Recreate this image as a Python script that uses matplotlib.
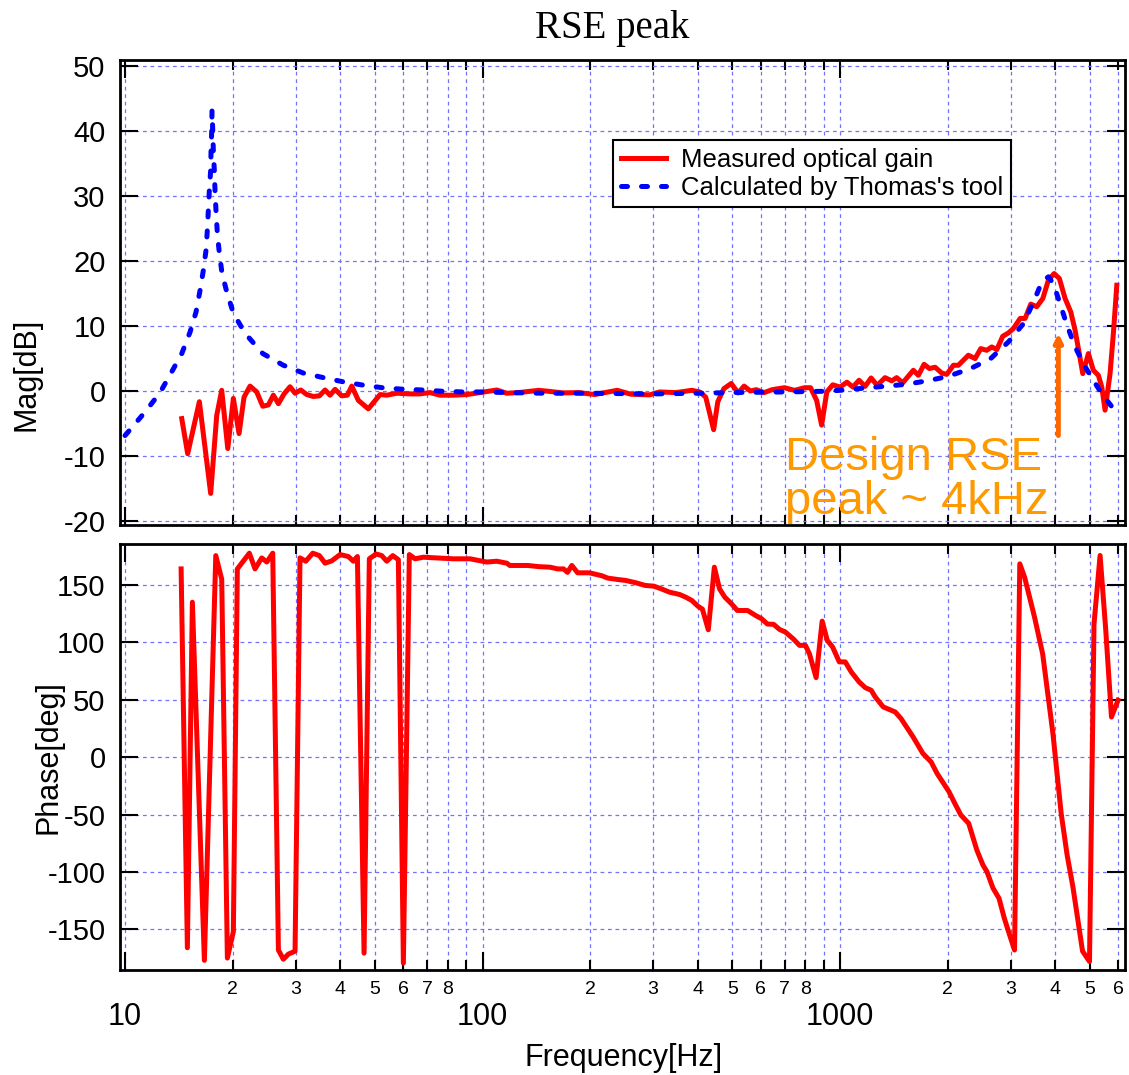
import numpy as np
import matplotlib.pyplot as plt
from matplotlib.ticker import FixedLocator, FuncFormatter

plt.rcParams['font.family'] = ['Liberation Sans', 'DejaVu Sans']
plt.rcParams['axes.unicode_minus'] = False

# measured optical gain, magnitude [dB]
mag_freq = [14.41, 14.97, 16.14, 17.36, 18.05, 18.64, 19.38, 20.09, 20.84, 21.52,
            22.37, 23.35, 24.28, 25.17, 25.99, 26.85, 27.85, 28.94, 29.89, 31.01,
            32.23, 33.63, 34.96, 36.27, 37.45, 38.68, 40.38, 41.86, 43.07, 44.94,
            47.92, 51.68, 53.96, 57.54, 62.69, 66.87, 71.32, 76.05, 82.85, 90.33,
            98.4, 109.6, 116.9, 126, 143.5, 153, 167.6, 186, 206, 220,
            238, 260, 293, 313, 347, 385, 405, 421, 443, 455,
            473, 496, 519, 539, 561, 583, 613, 646, 699, 746,
            796, 827, 860, 888, 918, 954, 1000, 1045, 1087, 1130,
            1175, 1221, 1270, 1336, 1395, 1440, 1497, 1603, 1656, 1718,
            1778, 1844, 1925, 1988, 2075, 2142, 2285, 2386, 2475, 2572,
            2657, 2744, 2851, 2957, 3053, 3189, 3293, 3416, 3550, 3690,
            3826, 3969, 4106, 4260, 4419, 4543, 4641, 4774, 4950, 5110,
            5278, 5395, 5511, 5691, 5814, 5943]
mag_db = [-4.2, -9.6, -1.6, -15.7, -3.7, 0.15, -8.8, -1.1, -6.5, -0.9,
          0.8, -0.1, -2.3, -2.1, -0.6, -1.9, -0.4, 0.7, -0.3, 0.2,
          -0.5, -0.8, -0.7, 0.2, -0.6, 0.3, -0.7, -0.6, 0.8, -1.4,
          -2.7, -0.5, -0.6, -0.3, -0.4, -0.4, -0.2, -0.6, -0.6, -0.5,
          -0.2, 0.2, -0.3, -0.2, 0.15, 0.0, -0.25, -0.2, -0.5, -0.2,
          0.15, -0.45, -0.55, -0.1, -0.2, 0.15, -0.1, -0.9, -5.9, -1.6,
          0.4, 1.2, -0.25, 0.8, 0.05, 0.25, -0.2, 0.25, 0.55, 0.15,
          0.55, 0.55, -1.4, -5.2, -0.1, 1.0, 0.65, 1.4, 0.65, 1.7,
          0.75, 2.05, 0.9, 2.1, 1.6, 2.1, 1.3, 3.23, 2.46, 4.15,
          3.5, 3.7, 2.8, 2.6, 4.0, 4.0, 5.54, 5.03, 6.56, 6.3,
          6.82, 6.4, 8.46, 8.97, 9.64, 11.2, 11.2, 13.4, 13.0, 14.26,
          17.08, 18.1, 17.33, 14.26, 12.2, 9.38, 6.56, 2.72, 5.8, 3.23,
          2.46, 0.67, -2.9, 2.72, 8.9, 16.3]

# calculated by Thomas's tool
calc_freq = [10.0, 11.37, 12.53, 13.51, 14.41, 15.20, 15.80, 16.21, 16.56, 16.85,
             16.99, 17.10, 17.21, 17.36, 17.40, 17.48, 17.51, 17.59, 17.66, 17.77,
             17.85, 17.97, 18.12, 18.36, 18.68, 19.25, 20.09, 21.67, 24.28, 27.72,
             31.53, 35.87, 41.24, 46.92, 53.38, 60.72, 68.19, 77.55, 88.22, 100.3,
             117.1, 150, 200, 300, 400, 500, 700, 900, 1000, 1200,
             1336, 1536, 1784, 2006, 2318, 2638, 2957, 3257, 3488, 3666,
             3826, 3950, 4122, 4299, 4523, 4788, 5110, 5395, 5765]
calc_db = [-6.8, -3.2, -0.2, 3.0, 5.8, 9.1, 12.2, 15.5, 18.6, 21.7,
           24.8, 27.8, 30.9, 34.0, 37.0, 40.2, 43.1, 40.2, 37.0, 34.0,
           30.9, 27.6, 24.3, 21.2, 18.1, 15.3, 12.0, 8.9, 5.8, 4.0,
           2.8, 2.1, 1.4, 0.9, 0.5, 0.3, 0.2, 0.0, -0.1, -0.1,
           -0.2, -0.3, -0.3, -0.4, -0.3, -0.2, -0.1, 0.0, 0.15, 0.55,
           0.77, 1.08, 1.69, 2.3, 3.5, 5.03, 7.59, 10.4, 13.9, 16.8,
           17.6, 16.56, 13.49, 10.4, 7.08, 4.26, 1.69, -0.36, -2.41]

# measured optical gain, phase [deg]
phase_freq = [14.35, 14.94, 15.43, 16.67, 17.94, 18.64, 19.33, 20.09, 20.61, 22.27,
              23.10, 24.12, 24.92, 25.89, 26.85, 27.72, 28.63, 29.89, 30.86, 32.03,
              33.50, 34.96, 36.27, 37.86, 39.94, 42.13, 43.52, 44.66, 46.62, 48.23,
              50.36, 52.24, 53.96, 56.09, 58.15, 60.05, 62.40, 64.74, 68.30, 74.45,
              82.85, 92.26, 102.7, 109.6, 116.9, 119.2, 133.9, 143.4, 154.4, 162.3,
              168.5, 172.8, 177.7, 184.5, 199.2, 215.9, 223.9, 238.5, 251, 268,
              285, 301, 316, 333, 356, 370, 385, 400, 412, 428,
              445, 460, 476, 497, 516, 551, 580, 603, 626, 652,
              677, 703, 740, 770, 800, 821, 857, 891, 921, 953,
              995, 1034, 1075, 1131, 1176, 1222, 1254, 1320, 1426, 1481,
              1600, 1705, 1797, 1868, 2016, 2094, 2177, 2290, 2413, 2510,
              2575, 2677, 2784, 2878, 2967, 3076, 3182, 3282, 3499, 3687,
              3939, 4154, 4315, 4480, 4767, 4985, 5132, 5337, 5529, 5743,
              5991]
phase_deg = [164, -166, 135, -177, 175.6, 155, -175, -152, 164, 177.7,
             164, 173.6, 170, 177.7, -168, -176, -171.6, -169, 173.6, 170.7,
             177.7, 175.6, 169, 171, 176.5, 174.8, 170.7, 174.8, -170.7, 172.8,
             177, 175.6, 170.7, 175.6, 172, -179.4, 176.5, 172.8, 174.2, 173.6,
             172.8, 172.8, 170, 170.7, 169, 167, 167, 166, 165.5, 164,
             164, 161, 167, 160.6, 160.6, 158, 156, 154.8, 154, 152,
             149.6, 149, 146.7, 143.8, 141.7, 139.4, 136.5, 131.6, 129, 111,
             165.5, 146.7, 139.4, 133.6, 127.8, 127.8, 123.5, 120.6, 116, 115.7,
             111.3, 109, 103, 97.4, 97.4, 90, 69.3, 118.5, 101.7, 96,
             83, 83, 74.2, 65.5, 60.6, 58.3, 52.5, 43.8, 39.4, 33.6,
             17.7, 3.2, -4.1, -14.2, -30, -40.3, -50.4, -57.7, -80.9, -94,
             -99.7, -114, -123, -140, -153, -168, 168.4, 156.8, 122, 90,
             20.6, -49, -85, -113, -169, -178, 116, 175.7, 113, 35,
             49.6]

mag_ticks = [-20, -10, 0, 10, 20, 30, 40, 50]
phase_ticks = [-150, -100, -50, 0, 50, 100, 150]
major_freqs = [10, 100, 1000]

grid_kw = dict(color='#7272ff', linestyle=(0, (3, 3)), linewidth=0.9)


def minor_label(v, pos):
    m = int(round(v / 10 ** np.floor(np.log10(v))))
    return str(m) if m <= 8 else ''


def style(ax):
    ax.set_xscale('log')
    ax.set_xlim(9.65, 6266)
    minors = [m * 10 ** e for e in (1, 2, 3) for m in range(2, 10) if m * 10 ** e < 6266]
    ax.xaxis.set_major_locator(FixedLocator(major_freqs))
    ax.xaxis.set_minor_locator(FixedLocator(minors))
    ax.xaxis.set_major_formatter(FuncFormatter(lambda v, p: '%d' % v))
    ax.xaxis.set_minor_formatter(FuncFormatter(minor_label))
    ax.tick_params(which='both', direction='in', top=True, right=True, width=1.5)
    ax.tick_params(which='major', length=13)
    ax.tick_params(which='minor', length=7)
    ax.tick_params(axis='y', labelsize=21, pad=10)
    ax.tick_params(axis='x', which='major', labelsize=22, pad=23)
    ax.tick_params(axis='x', which='minor', labelsize=14, pad=8)
    ax.grid(True, which='both', axis='x', **grid_kw)
    ax.grid(True, which='major', axis='y', **grid_kw)
    for s in ax.spines.values():
        s.set_linewidth(2)


fig = plt.figure(figsize=(11.29, 10.75), dpi=100)
ax1 = fig.add_axes([0.10585, 0.51163, 0.89061, 0.43256])
ax2 = fig.add_axes([0.10585, 0.09767, 0.89061, 0.39628])

# magnitude
l1, = ax1.plot(mag_freq, mag_db, color='red', lw=3.6, solid_joinstyle='round')
l2, = ax1.plot(calc_freq, calc_db, color='blue', lw=3.6,
               linestyle=(0, (1.2, 2.8)), dash_capstyle='round')
style(ax1)
ax1.set_ylim(-20.55, 50.92)
ax1.set_yticks(mag_ticks)
ax1.tick_params(axis='x', which='both', labelbottom=False)

leg = ax1.legend([l1, l2], ['Measured optical gain', "Calculated by Thomas's tool"],
                 loc='upper right', bbox_to_anchor=(1011 / 1129, 1 - 140 / 1075),
                 bbox_transform=fig.transFigure, fontsize=18.5, fancybox=False,
                 framealpha=1, edgecolor='black', borderpad=0.3, labelspacing=0.15,
                 handlelength=1.75, handletextpad=0.6, borderaxespad=0)
leg.get_frame().set_linewidth(1.5)

ax1.annotate('', xy=(4080, 8.9), xytext=(4080, -6.8),
             arrowprops=dict(arrowstyle='-|>', color='#ff6600', lw=3.5,
                             mutation_scale=12, shrinkA=0, shrinkB=0))
ax1.text(701, -12.15, 'Design RSE', color='#ff9900', fontsize=34, va='baseline')
ax1.text(701, -18.8, 'peak ~ 4kHz', color='#ff9900', fontsize=34, va='baseline')

# phase
ax2.plot(phase_freq, phase_deg, color='red', lw=3.6, solid_joinstyle='round')
style(ax2)
ax2.set_ylim(-185.4, 185.7)
ax2.set_yticks(phase_ticks)

fig.text(612 / 1129, 1 - 38 / 1075, 'RSE peak', family='Liberation Serif',
         fontsize=28, ha='center', va='baseline')
fig.text(27 / 1129, 1 - 374 / 1075, 'Mag[dB]', rotation=90, ha='center',
         va='center', fontsize=22)
fig.text(48 / 1129, 1 - 757 / 1075, 'Phase[deg]', rotation=90, ha='center',
         va='center', fontsize=22)
fig.text(624 / 1129, 1 - 1058 / 1075, 'Frequency[Hz]', ha='center',
         va='center', fontsize=22)

fig.savefig('out.png', dpi=100)
